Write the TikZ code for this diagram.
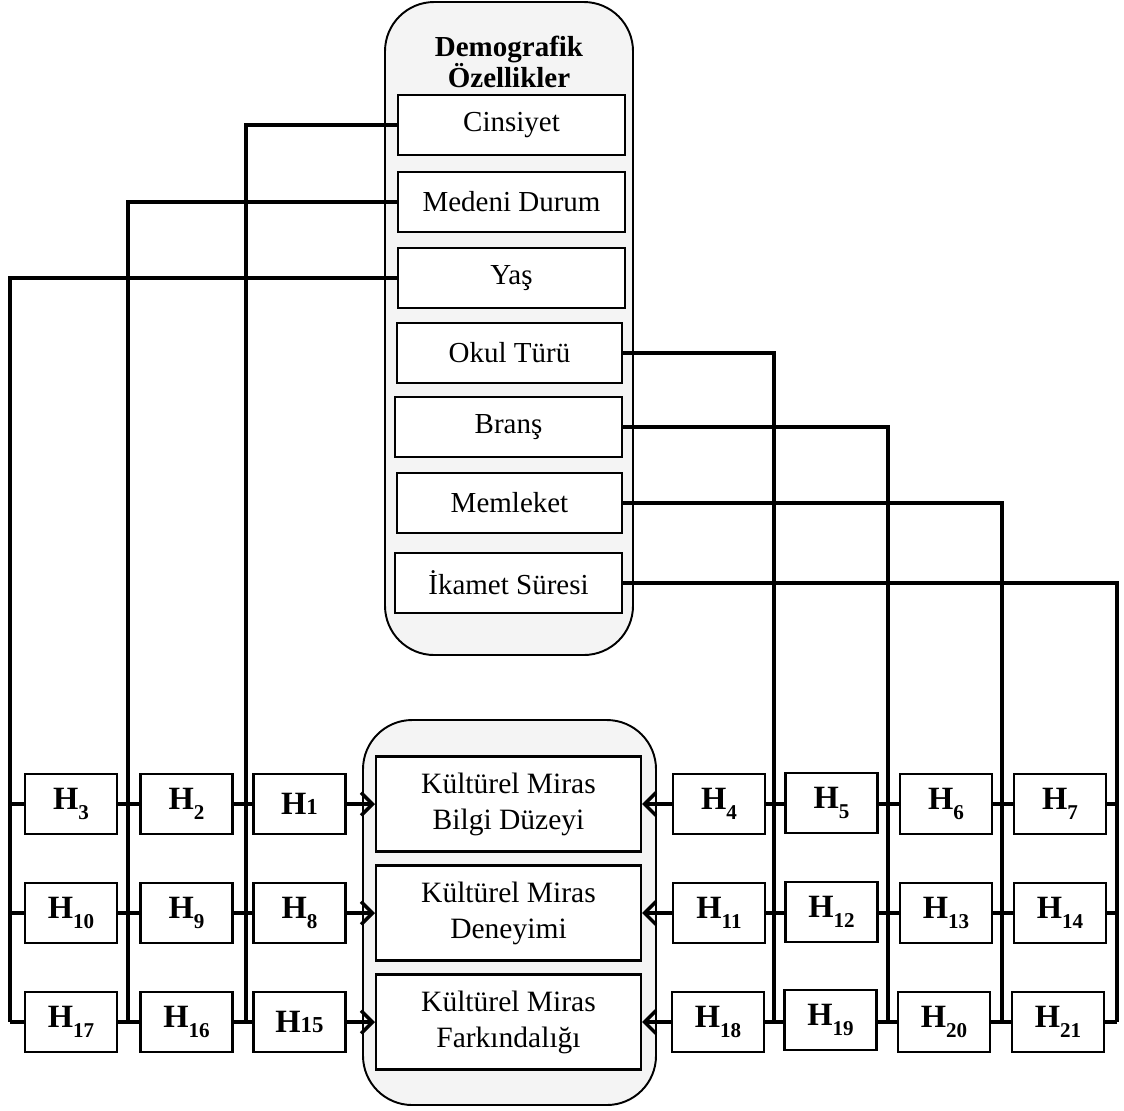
\documentclass[tikz,border=0pt]{standalone}
\usepackage{fontspec}
\setmainfont{Liberation Serif}
\usepackage{tikz}
\usetikzlibrary{arrows.meta, calc, positioning}
\tikzstyle{panel}=[draw=black, fill=gray!9, line width=1.1pt, rounded corners=28pt]
\tikzstyle{dbox}=[draw=black, fill=white, line width=1.2pt, minimum width=4.54cm, minimum height=1.2cm, inner sep=0pt, font=\fontsize{16.5}{20}\selectfont]
\tikzstyle{kbox}=[draw=black, fill=white, line width=1.2pt, minimum width=5.3cm, minimum height=1.9cm, inner sep=0pt, align=center, font=\fontsize{16.8}{20.5}\selectfont]
\tikzstyle{hbox}=[draw=black, fill=white, line width=1.2pt, minimum width=1.84cm, minimum height=1.2cm, inner sep=0pt, font=\fontsize{18.5}{20}\selectfont\bfseries]
\tikzstyle{wire}=[draw=black, line width=2pt]
\tikzstyle{arr}=[draw=black, line width=2pt, -{Straight Barb[length=6.5pt, width=13pt]}]
\newcommand{\hy}[1]{H\raisebox{-5.5pt}{\fontsize{12}{12}\selectfont #1}}
\newcommand{\hz}[1]{H{\fontsize{13}{12}\selectfont #1}}

\begin{document}
\begin{tikzpicture}[x=0.02cm, y=-0.02cm]
	\useasboundingbox (0,0) rectangle (1124,1110);

	% panels
	\draw[panel] (385,2) rectangle (633,655);
	\draw[panel] (363,720) rectangle (656,1105);
	\node[align=center, font=\fontsize{16.5}{17.6}\selectfont\bfseries] (title) at (509,62) {Demografik\\Özellikler};

	% demographic variables
	\node[style=dbox] (cins) at (511.5,125) {Cinsiyet};
	\node[style=dbox] (med) at (511.5,202) {Medeni Durum};
	\node[style=dbox] (yas) at (511.5,278) {Yaş};
	\node[style=dbox, minimum width=4.5cm] (okul) at (509.5,353) {Okul Türü};
	\node[style=dbox] (brans) at (508.5,427) {Branş};
	\node[style=dbox, minimum width=4.5cm] (mem) at (509.5,503) {Memleket};
	\node[style=dbox] (ikamet) at (508.5,583) {İkamet Süresi};

	% outcomes
	\node[style=kbox] (km1) at (508.5,804) {Kültürel Miras\\Bilgi Düzeyi};
	\node[style=kbox] (km2) at (508.5,913) {Kültürel Miras\\Deneyimi};
	\node[style=kbox] (km3) at (508.5,1022) {Kültürel Miras\\Farkındalığı};

	% hypotheses, left
	\node[style=hbox] (h3) at (71,804) {\hy{3}};
	\node[style=hbox] (h2) at (186.5,804) {\hy{2}};
	\node[style=hbox] (h1) at (299.5,804) {\hz{1}};
	\node[style=hbox] (h10) at (71,913) {\hy{10}};
	\node[style=hbox] (h9) at (186.5,913) {\hy{9}};
	\node[style=hbox] (h8) at (299.5,913) {\hy{8}};
	\node[style=hbox] (h17) at (71,1022) {\hy{17}};
	\node[style=hbox] (h16) at (186.5,1022) {\hy{16}};
	\node[style=hbox] (h15) at (299.5,1022) {\hz{15}};

	% hypotheses, right
	\node[style=hbox] (h4) at (719,804) {\hy{4}};
	\node[style=hbox] (h5) at (831.5,803) {\hy{5}};
	\node[style=hbox] (h6) at (946,804) {\hy{6}};
	\node[style=hbox] (h7) at (1060,804) {\hy{7}};
	\node[style=hbox] (h11) at (719,913) {\hy{11}};
	\node[style=hbox] (h12) at (831.5,912) {\hy{12}};
	\node[style=hbox] (h13) at (946,913) {\hy{13}};
	\node[style=hbox] (h14) at (1060,913) {\hy{14}};
	\node[style=hbox] (h18) at (718,1022) {\hy{18}};
	\node[style=hbox] (h19) at (830.5,1020) {\hy{19}};
	\node[style=hbox] (h20) at (944,1022) {\hy{20}};
	\node[style=hbox] (h21) at (1058,1022) {\hy{21}};

	% trunk ends
	\coordinate (t1) at (246,1022);
	\coordinate (t2) at (128,1022);
	\coordinate (t3) at (10,1022);
	\coordinate (t4) at (774,1022);
	\coordinate (t5) at (888,1022);
	\coordinate (t6) at (1002,1022);
	\coordinate (t7) at (1117,1022);

	\draw[style=wire] (cins.west) -| (t1);
	\draw[style=wire] (med.west) -| (t2);
	\draw[style=wire] (yas.west) -| (t3);
	\draw[style=wire] (okul.east) -| (t4);
	\draw[style=wire] (brans.east) -| (t5);
	\draw[style=wire] (mem.east) -| (t6);
	\draw[style=wire] (ikamet.east) -| (t7);

	% rows, left
	\draw[style=wire] (t3 |- h3) -- (h3.west);
	\draw[style=wire] (h3.east) -- (h2.west);
	\draw[style=wire] (h2.east) -- (h1.west);
	\draw[style=arr] (h1.east) -- (km1.west);
	\draw[style=wire] (t3 |- h10) -- (h10.west);
	\draw[style=wire] (h10.east) -- (h9.west);
	\draw[style=wire] (h9.east) -- (h8.west);
	\draw[style=arr] (h8.east) -- (km2.west);
	\draw[style=wire] (t3) -- (h17.west);
	\draw[style=wire] (h17.east) -- (h16.west);
	\draw[style=wire] (h16.east) -- (h15.west);
	\draw[style=arr] (h15.east) -- (km3.west);

	% rows, right
	\draw[style=wire] (t7 |- h7) -- (h7.east);
	\draw[style=wire] (h7.west) -- (h6.east);
	\draw[style=wire] (h6.west) -- (h5.east |- h6);
	\draw[style=wire] (h5.west |- h4) -- (h4.east);
	\draw[style=arr] (h4.west) -- (km1.east);
	\draw[style=wire] (t7 |- h14) -- (h14.east);
	\draw[style=wire] (h14.west) -- (h13.east);
	\draw[style=wire] (h13.west) -- (h12.east |- h13);
	\draw[style=wire] (h12.west |- h11) -- (h11.east);
	\draw[style=arr] (h11.west) -- (km2.east);
	\draw[style=wire] (t7) -- (h21.east);
	\draw[style=wire] (h21.west) -- (h20.east);
	\draw[style=wire] (h20.west) -- (h19.east |- h20);
	\draw[style=wire] (h19.west |- h18) -- (h18.east);
	\draw[style=arr] (h18.west) -- (km3.east);
\end{tikzpicture}
\end{document}
